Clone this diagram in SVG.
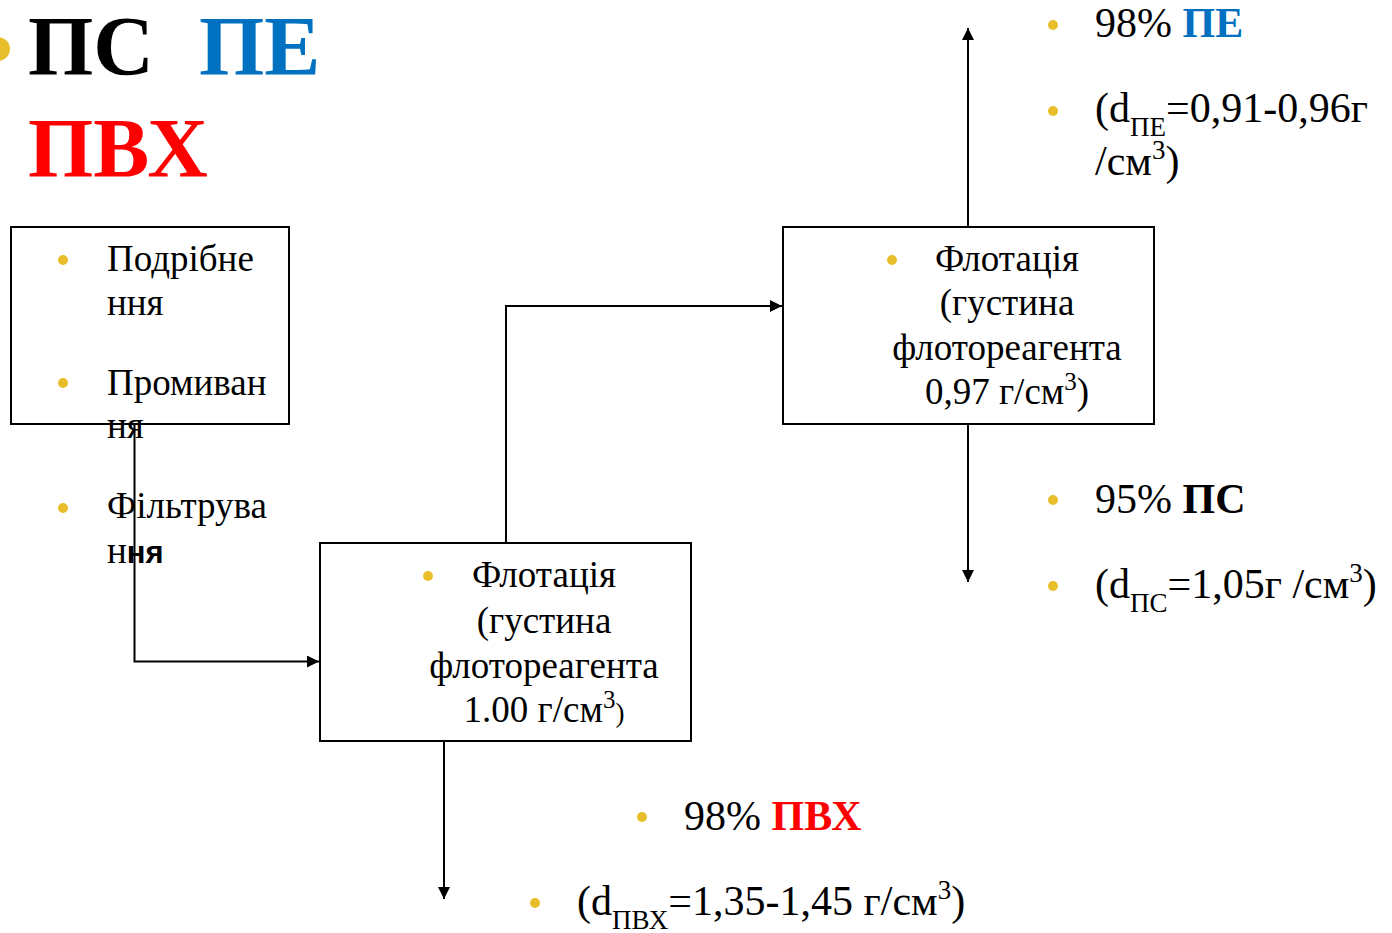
<svg xmlns="http://www.w3.org/2000/svg" width="1392" height="933" viewBox="0 0 1392 933">
<style>
text{font-family:"Liberation Serif","Times New Roman",serif;fill:#000}
.t{font-size:37px}
.r{font-size:42px}
.big{font-size:84px;font-weight:bold}
.b{font-weight:bold}
.blue{fill:#0070C0}
.red{fill:#FF0000}
.dot{fill:#E8BF2A}
.box{fill:#fff;stroke:#000;stroke-width:2}
.ln{fill:none;stroke:#000;stroke-width:2}
</style>
<defs>
<marker id="ah" viewBox="0 0 10 10" refX="10" refY="5" markerWidth="6" markerHeight="6" markerUnits="strokeWidth" orient="auto">
<path d="M0,0 L10,5 L0,10 z" fill="#000"/>
</marker>
</defs>
<g id="title">
<circle class="dot" cx="-2" cy="49" r="12"/>
<text class="big" x="28" y="75">ПС</text>
<text class="big blue" x="199" y="75">ПЕ</text>
<text class="big red" x="28" y="177">ПВХ</text>
</g>
<g id="connectors">
<path class="ln" d="M134.5,424 V661.5 H319" marker-end="url(#ah)"/>
<path class="ln" d="M506,543 V306 H782" marker-end="url(#ah)"/>
<path class="ln" d="M444,741 V899" marker-end="url(#ah)"/>
<path class="ln" d="M968,227 V28" marker-end="url(#ah)"/>
<path class="ln" d="M968,424 V582" marker-end="url(#ah)"/>
</g>
<g id="prep">
<rect class="box" x="11" y="227" width="278" height="197" fill="none"/>
<circle class="dot" cx="63" cy="260" r="5"/>
<circle class="dot" cx="63" cy="383" r="5"/>
<circle class="dot" cx="63" cy="508" r="5"/>
<text class="t" x="107" y="271">Подрібне</text>
<text class="t" x="107" y="315">ння</text>
<text class="t" x="107" y="395">Промиван</text>
<text class="t" x="107" y="438">ня</text>
<text class="t" x="107" y="518">Фільтрува</text>
<text class="t" x="107" y="563">н<tspan font-family="Liberation Sans, Arial, sans-serif" font-weight="bold" font-size="31">ня</tspan></text>
</g>
<g id="flot1">
<rect class="box" x="320" y="543" width="371" height="198"/>
<circle class="dot" cx="428" cy="576" r="5"/>
<text class="t" text-anchor="middle" x="544" y="587">Флотація</text>
<text class="t" text-anchor="middle" x="544" y="633">(густина</text>
<text class="t" text-anchor="middle" x="544" y="678">флотореагента</text>
<text class="t" text-anchor="middle" x="544" y="722">1.00 г/см<tspan font-size="25" dy="-14">3</tspan><tspan font-size="27" dy="14">)</tspan></text>
</g>
<g id="flot2">
<rect class="box" x="783" y="227" width="371" height="197"/>
<circle class="dot" cx="892" cy="260" r="5"/>
<text class="t" text-anchor="middle" x="1007" y="271">Флотація</text>
<text class="t" text-anchor="middle" x="1007" y="315">(густина</text>
<text class="t" text-anchor="middle" x="1007" y="360">флотореагента</text>
<text class="t" text-anchor="middle" x="1007" y="404">0,97 г/см<tspan font-size="25" dy="-14">3</tspan><tspan dy="14">)</tspan></text>
</g>
<g id="out-pe">
<circle class="dot" cx="1053" cy="25" r="5"/>
<circle class="dot" cx="1053" cy="111" r="5"/>
<text class="r" x="1095" y="37">98% <tspan class="b blue">ПЕ</tspan></text>
<text class="r" x="1095" y="122">(d<tspan font-size="27" dy="14">ПЕ</tspan><tspan dy="-14">=0,91-0,96г</tspan></text>
<text class="r" x="1095" y="175">/см<tspan font-size="27" dy="-16">3</tspan><tspan dy="16">)</tspan></text>
</g>
<g id="out-ps">
<circle class="dot" cx="1053" cy="500" r="5"/>
<circle class="dot" cx="1053" cy="586" r="5"/>
<text class="r" x="1095" y="513">95% <tspan class="b">ПС</tspan></text>
<text class="r" x="1095" y="598">(d<tspan font-size="27" dy="14">ПС</tspan><tspan dy="-14">=1,05г /см</tspan><tspan font-size="27" dy="-16">3</tspan><tspan dy="16">)</tspan></text>
</g>
<g id="out-pvc">
<circle class="dot" cx="642" cy="817" r="5"/>
<circle class="dot" cx="535" cy="903" r="5"/>
<text class="r" x="684" y="830">98% <tspan class="b red">ПВХ</tspan></text>
<text class="r" x="577" y="915">(d<tspan font-size="27" dy="14">ПВХ</tspan><tspan dy="-14">=1,35-1,45 г/см</tspan><tspan font-size="27" dy="-16">3</tspan><tspan dy="16">)</tspan></text>
</g>
</svg>
